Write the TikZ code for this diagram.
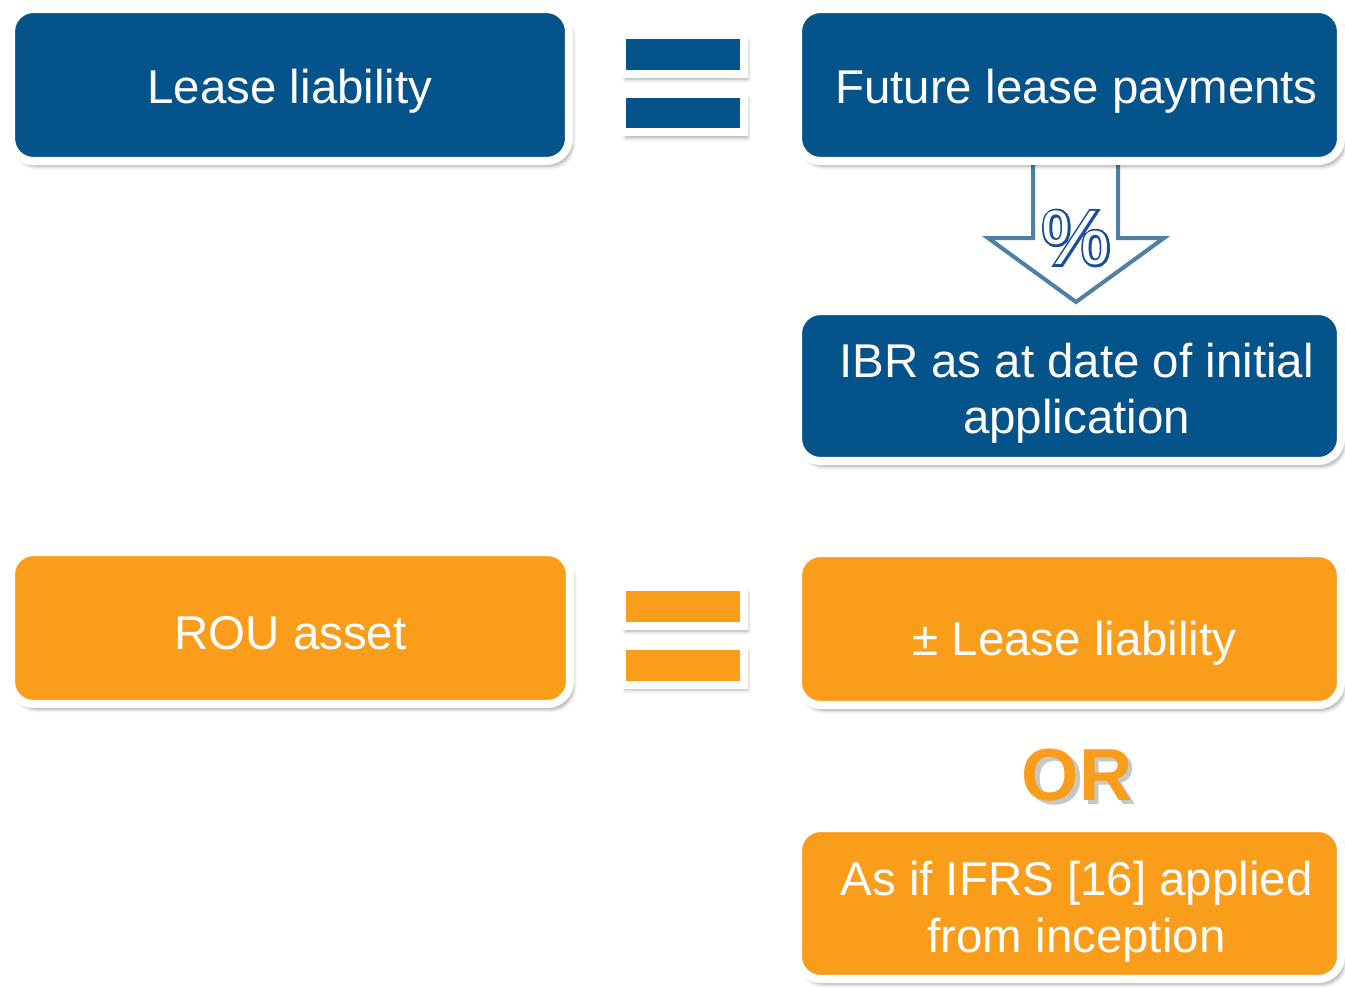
\documentclass[tikz,border=0pt]{standalone}
\usepackage{fontspec}
\setmainfont{Liberation Sans}
\usetikzlibrary{positioning,shadows.blur}

\definecolor{leaseblue}{RGB}{4,83,138}
\definecolor{rouorange}{RGB}{250,157,26}
\definecolor{arrowblue}{RGB}{78,127,166}
\definecolor{pctblue}{RGB}{26,78,154}

\newcommand\outlinepct{\makebox[0pt][l]{\textcolor{pctblue}{\addfontfeature{FakeBold=6}\%}}\textcolor{white}{\%}}
\newcommand\shadowtext[1]{\makebox[0pt][l]{\kern2.5pt\raisebox{-2.5pt}{\textcolor{black!22}{#1}}}#1}

\begin{document}
\begin{tikzpicture} [x=0.02cm,y=-0.02cm,
		box/.style={draw=white,line width=0.16cm,rounded corners=0.45cm,text=white,
			align=center,inner sep=0pt,minimum height=3.04cm,
			font=\fontsize{27}{32}\selectfont,
			blur shadow={shadow xshift=2pt,shadow yshift=-3pt,shadow opacity=35,shadow blur steps=6}},
		blue box/.style={box,fill=leaseblue},
		orange box/.style={box,fill=rouorange},
		text drop/.style 2 args={text height=#1,text depth=#2},
		eqbar/.style={draw=white,line width=0.16cm,inner sep=0pt,
			minimum width=2.44cm,minimum height=0.78cm,
			blur shadow={shadow xshift=2pt,shadow yshift=-3pt,shadow opacity=35,shadow blur steps=6}},
		pct arrow/.style={draw=arrowblue,fill=white,line width=0.08cm,line join=miter}]

	\useasboundingbox (0,0) rectangle (1345,987);

	\filldraw [pct arrow] (1033,162) -- (1033,238) -- (988,238) -- (1076,302)
		-- (1164,238) -- (1118,238) -- (1118,162);

	\node [blue box, minimum width=11.16cm, text drop={20.5pt}{0pt}] (box-ll) at (290,85) {Lease liability};
	\node [blue box, minimum width=10.86cm, text drop={20.5pt}{0pt}] (box-flp) at (1069.5,85)
		{\hspace*{0.28cm}Future lease payments};
	\node [blue box, minimum width=10.86cm, minimum height=3.0cm, text drop={54.6pt}{0pt}] (box-ibr) at (1069.5,386)
		{\hspace*{0.28cm}IBR as at date of initial\\\hspace*{0.28cm}application};

	\node [orange box, minimum width=11.18cm, text drop={25pt}{0pt}] (box-rou) at (290.5,628) {ROU asset};
	\node [orange box, minimum width=10.86cm, text drop={29.6pt}{0pt}] (box-pm) at (1069.5,629)
		{\hspace*{0.2cm}± Lease liability};
	\node [orange box, minimum width=10.86cm, minimum height=3.02cm, text drop={55.2pt}{0pt}] (box-ifrs) at (1069.5,903.5)
		{\hspace*{0.28cm}As if IFRS [16] applied\\\hspace*{0.28cm}from inception};

	\node [eqbar, fill=leaseblue] (eq-top-a) at (683,54.5) {};
	\node [eqbar, fill=leaseblue] (eq-top-b) at (683,113) {};
	\node [eqbar, fill=rouorange] (eq-bot-a) at (683,606.5) {};
	\node [eqbar, fill=rouorange] (eq-bot-b) at (683,665) {};

	\node [font=\fontsize{44}{44}\selectfont] (pct) at (1076,238) {\outlinepct};
	\node [text=rouorange, font=\fontsize{42}{42}\bfseries] (or) at (1077,777) {\shadowtext{OR}};
\end{tikzpicture}
\end{document}
